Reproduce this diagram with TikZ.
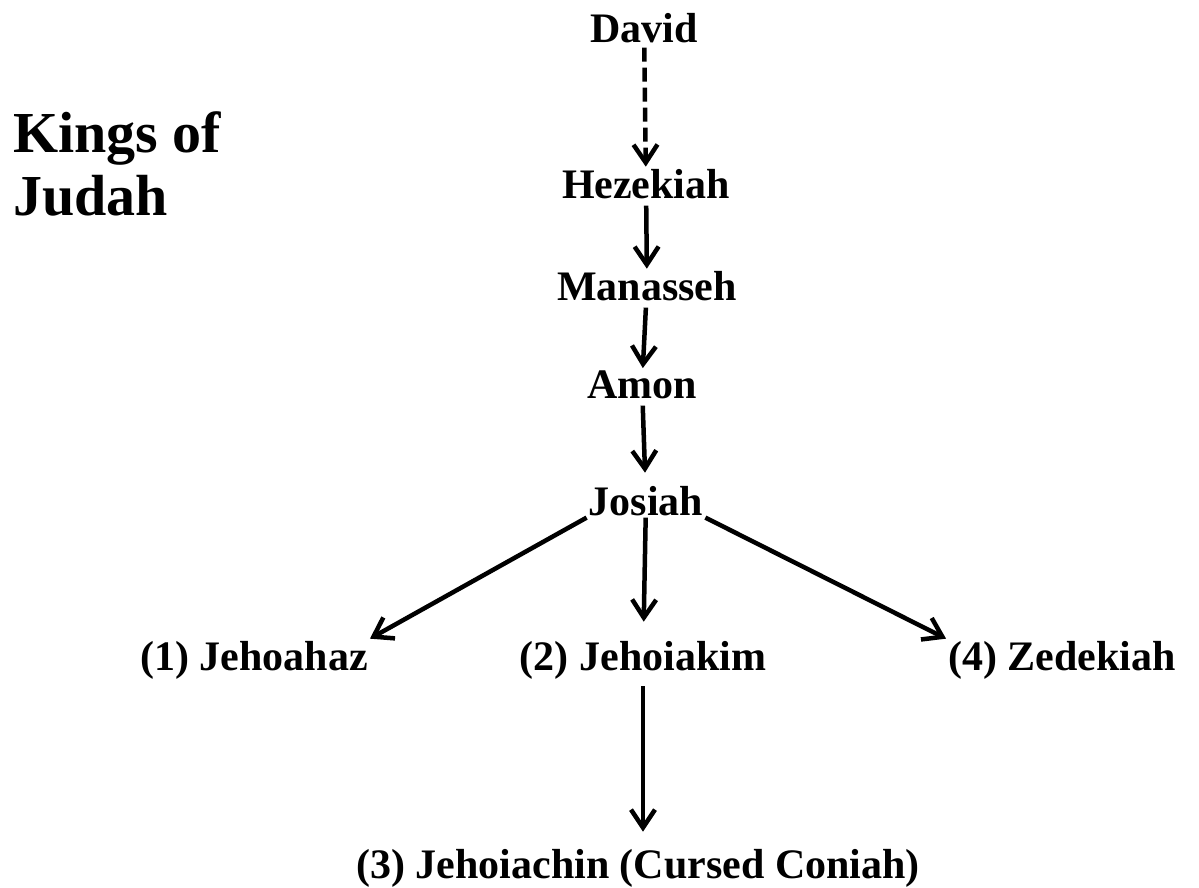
\documentclass[tikz,border=0pt]{standalone}
\usepackage{fontspec}
\setmainfont{Liberation Serif}
\usetikzlibrary{arrows.meta}
\tikzset{
  king/.style={font=\fontsize{42}{48}\selectfont\bfseries, inner sep=2pt, anchor=base},
  kin/.style={-{Straight Barb[length=18pt,width=24pt]}, line width=4.5pt, shorten <=5pt, shorten >=0pt},
}
\begin{document}
\begin{tikzpicture}[x=1pt, y=-1pt]
    \useasboundingbox (0,0) rectangle (1199,888);
    % title
    \node[anchor=base west, inner sep=0pt, align=left, font=\fontsize{58}{63}\selectfont\bfseries] (title) at (13,215) {Kings of\\Judah};
    % line of kings
    \node[king] (dv) at (644,43) {David};
    \node[king] (hz) at (646,198) {Hezekiah};
    \node[king] (mn) at (647,300) {Manasseh};
    \node[king] (am) at (642,398) {Amon};
    \node[king] (js) at (646,515) {Josiah};
    \node[king] (jh) at (254,670) {(1) Jehoahaz};
    \node[king] (jk) at (643,670) {(2) Jehoiakim};
    \node[king] (zd) at (1062,670) {(4) Zedekiah};
    \node[king] (jc) at (638,878) {(3) Jehoiachin (Cursed Coniah)};
    \draw[kin, dash pattern=on 14pt off 6pt, shorten <=2pt] (dv) -- (hz);
    \foreach \a/\b in {hz/mn, mn/am} {
        \draw[kin] (\a) -- (\b);
    }
    \draw[kin, shorten >=11pt] (am) -- (js);
    \draw[kin, shorten <=0pt, shorten >=0pt] (js.south west) -- (jh.north east);
    \draw[kin, shorten <=0pt, shorten >=0pt] (js.south east) -- (zd.north west);
    \draw[kin, shorten <=0pt, shorten >=17pt] (js) -- (jk);
    \draw[kin, shorten >=15pt] (jk) -- (jk |- jc.north);
\end{tikzpicture}
\end{document}
